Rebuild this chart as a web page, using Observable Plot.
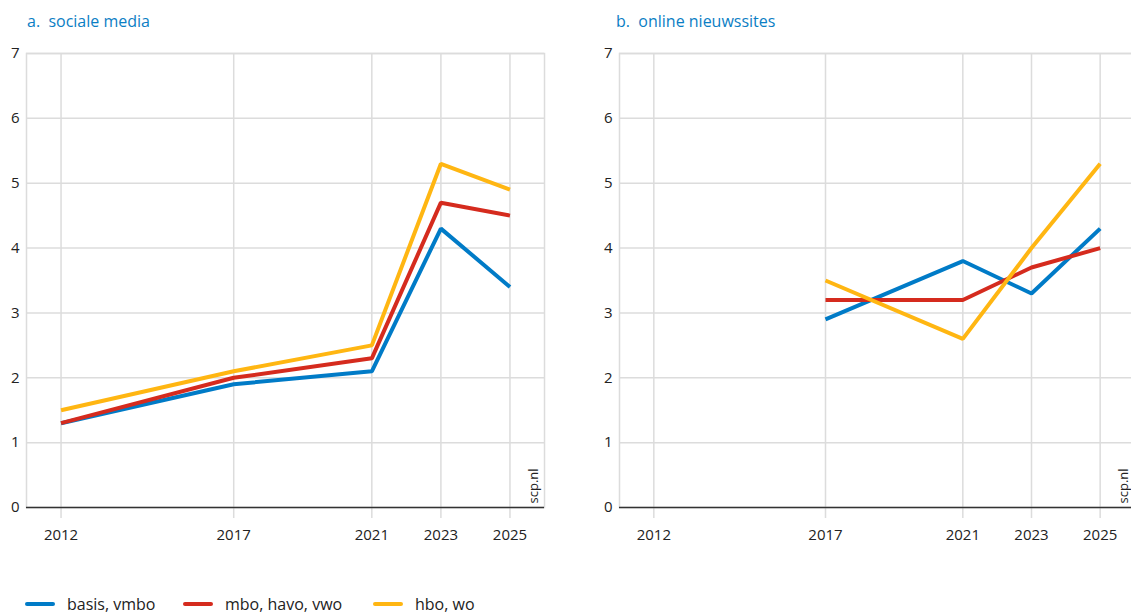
<!DOCTYPE html>
<html><head><meta charset="utf-8">
<script src="https://cdn.jsdelivr.net/npm/d3@7"></script>
<script src="https://cdn.jsdelivr.net/npm/@observablehq/plot@0.6"></script>
<style>
html,body{margin:0;padding:0;background:#fff;overflow:hidden;width:1131px;height:614px}
#wrap{position:relative;width:1131px;height:614px;overflow:hidden;font-family:"Open Sans",sans-serif;color:#222}
.title{position:absolute;top:10px;font-size:16px;line-height:22px;color:#0b7ec4;white-space:pre}
.panel{position:absolute;top:0;width:560px;height:560px}
.panel svg{max-width:none !important;width:560px;height:560px}
#legend{position:absolute;top:593px;left:25px;height:22px;font-size:16px;line-height:22px;color:#222}
.item{position:absolute;top:0;white-space:nowrap}
.sw{position:absolute;top:9px;left:0;width:30px;height:4px;border-radius:2px}
.lab{position:absolute;left:42px;top:0}
</style>
</head><body>
<div id="wrap">
  <div class="panel" id="pa" style="left:0"></div>
  <div class="panel" id="pb" style="left:592px"></div>
  <div class="title" style="left:27px">a.  sociale media</div>
  <div class="title" style="left:616px">b.  online nieuwssites</div>
  <div id="legend"></div>
</div>
<script>
const seriesNames = ["basis, vmbo", "mbo, havo, vwo", "hbo, wo"];
const seriesColors = ["#007bc7", "#d52b1e", "#ffb612"];
const xTicks = [2012, 2017, 2021, 2023, 2025];
const yTicks = [0, 1, 2, 3, 4, 5, 6, 7];

const socialYears = [2012, 2017, 2021, 2023, 2025];
const socialBasis = [1.3, 1.9, 2.1, 4.3, 3.4];
const socialMbo   = [1.3, 2.0, 2.3, 4.7, 4.5];
const socialHbo   = [1.5, 2.1, 2.5, 5.3, 4.9];

const newsYears = [2017, 2021, 2023, 2025];
const newsBasis = [2.9, 3.8, 3.3, 4.3];
const newsMbo   = [3.2, 3.2, 3.7, 4.0];
const newsHbo   = [3.5, 2.6, 4.0, 5.3];

const sourceLabel = "scp.nl";

function toRows(years, lists) {
  const rows = [];
  lists.forEach((vals, k) => vals.forEach((v, i) => rows.push({year: years[i], value: v, group: seriesNames[k]})));
  return rows;
}

function chart(rows, marginLeft, marginRight) {
  return Plot.plot({
    width: 560, height: 560,
    marginTop: 53, marginBottom: 53, marginLeft, marginRight,
    style: {fontFamily: '"Open Sans", sans-serif', fontSize: "15px", color: "#222", background: "transparent", maxWidth: "none"},
    x: {domain: [2011, 2026], label: null},
    y: {domain: [0, 7], label: null},
    color: {domain: seriesNames, range: seriesColors},
    marks: [
      Plot.ruleY(yTicks.slice(1), {stroke: "#dcdcdc", strokeWidth: 1.5}),
      Plot.ruleX(xTicks, {y1: -0.17, y2: 7, stroke: "#dcdcdc", strokeWidth: 1.5}),
      Plot.frame({stroke: "#dcdcdc", strokeWidth: 1.5}),
      Plot.ruleY([0], {stroke: "#333", strokeWidth: 1.5}),
      Plot.axisY({ticks: yTicks, tickSize: 0, tickPadding: 7, tickFormat: d => String(d), fontSize: 15, label: null}),
      Plot.axisX({ticks: xTicks, tickSize: 0, tickPadding: 22, tickFormat: d => String(d), fontSize: 15, label: null}),
      Plot.line(rows, {x: "year", y: "value", z: "group", stroke: "group", strokeWidth: 4, strokeLinejoin: "miter", strokeLinecap: "butt"}),
      Plot.text([sourceLabel], {x: () => 2026, y: () => 0, text: d => d, rotate: -90, textAnchor: "start", lineAnchor: "bottom", dx: -7, dy: -4, fontSize: 13, fill: "#222"})
    ]
  });
}

document.getElementById("pa").appendChild(chart(toRows(socialYears, [socialBasis, socialMbo, socialHbo]), 26, 16));
document.getElementById("pb").appendChild(chart(toRows(newsYears, [newsBasis, newsMbo, newsHbo]), 27, 18));

const legendLefts = [0, 158, 348];
const legend = document.getElementById("legend");
seriesNames.forEach((name, i) => {
  const it = document.createElement("div");
  it.className = "item";
  it.style.left = legendLefts[i] + "px";
  it.innerHTML = `<span class="sw" style="background:${seriesColors[i]}"></span><span class="lab">${name}</span>`;
  legend.appendChild(it);
});
</script>
</body></html>
